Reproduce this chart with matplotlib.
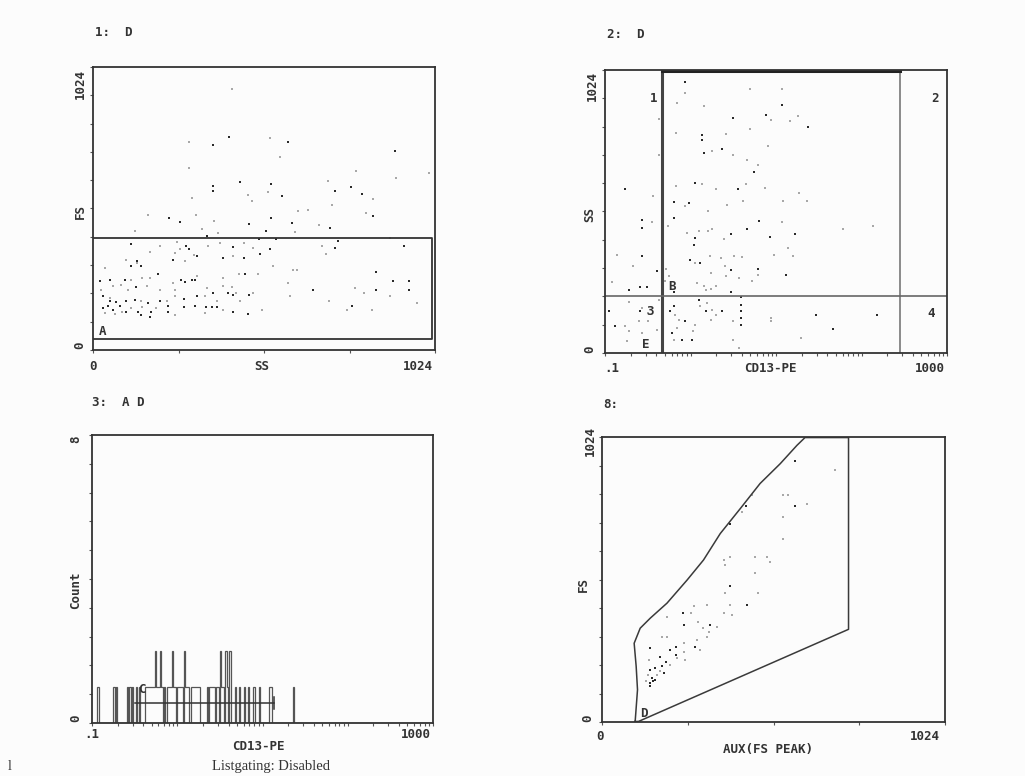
import numpy as np
import matplotlib
matplotlib.use("Agg")
from matplotlib import pyplot as plt

# panel 1: SS vs FS (dark and faint dots)
ss1_dark = [408, 358, 585, 903, 440, 358, 358, 533, 567, 725, 772, 805, 837, 228, 260, 533, 597, 468, 518, 710, 340,
            115, 278, 288, 420, 498, 530, 548, 500, 388, 453, 310, 240, 132, 145, 115, 455, 262, 275, 295, 305, 195,
            95, 50, 20, 128, 358, 468, 660, 848, 848, 897, 945, 945, 930, 735, 725, 775, 30, 50, 70, 100, 125, 165,
            200, 272, 312, 405, 420, 30, 45, 60, 80, 100, 135, 175, 225, 225, 272, 305, 338, 355, 370, 418, 465, 170, 145]
fs1_dark = [772, 742, 754, 719, 608, 594, 576, 600, 557, 576, 590, 564, 485, 479, 463, 478, 461, 455, 430, 442, 412,
            384, 378, 366, 373, 400, 364, 400, 349, 333, 333, 339, 327, 321, 303, 303, 276, 255, 245, 255, 255, 276,
            255, 255, 248, 227, 208, 200, 218, 282, 216, 248, 248, 216, 376, 394, 370, 158, 196, 176, 172, 176, 182, 170,
            176, 184, 194, 206, 200, 152, 158, 145, 158, 139, 139, 136, 139, 158, 155, 158, 155, 155, 155, 137, 130, 121, 127]
ss1_light = [417, 288, 530, 560, 788, 908, 1005, 288, 525, 463, 475, 295, 705, 837, 717, 613, 645, 817, 165, 308, 363,
             325, 373, 678, 125, 605, 890, 252, 260, 245, 172, 200, 345, 380, 452, 478, 418, 302, 275, 98, 132, 35,
             540, 600, 610, 495, 438, 388, 310, 170, 148, 115, 85, 60, 162, 240, 105, 200, 245, 340, 388, 415, 428,
             478, 585, 590, 785, 810, 888, 685, 698, 970, 762, 835, 708, 25, 50, 145, 223, 245, 335, 370, 440, 115,
             148, 190, 390, 505, 35, 65, 88, 245, 335]
fs1_light = [945, 751, 766, 700, 646, 624, 642, 660, 572, 561, 539, 551, 612, 548, 524, 504, 508, 497, 487, 487, 467,
             439, 424, 452, 430, 427, 406, 390, 366, 351, 355, 376, 378, 388, 388, 370, 339, 345, 321, 327, 315, 297,
             303, 288, 291, 276, 276, 261, 269, 261, 261, 255, 236, 230, 230, 242, 218, 216, 218, 224, 230, 228, 208,
             206, 242, 196, 224, 206, 194, 376, 349, 170, 145, 143, 176, 218, 188, 176, 176, 194, 194, 176, 176, 152,
             155, 152, 145, 145, 133, 130, 136, 127, 133]
gate_a = (0, 40, 1015, 406)  # x0, y0, x1, y1

# panel 2: CD13-PE (log) vs SS
cd13_dark = [0.87, 11.8, 3.1, 7.6, 23.5, 1.35, 1.35, 2.35, 1.43, 5.6, 1.12, 3.6, 0.17, 0.64, 0.95, 0.27, 0.27, 0.64,
             6.3, 1.12, 3.0, 4.6, 8.5, 16.7, 0.27, 1.09, 0.99, 1.30, 3.0, 6.2, 13.1, 3.0, 0.19, 0.26, 0.31, 0.41, 0.64,
             0.11, 0.26, 0.58, 0.64, 0.86, 1.25, 1.5, 2.35, 3.9, 3.9, 3.9, 3.9, 3.9, 0.61, 0.80, 1.05, 0.13, 29.5, 46, 150]
ss2_dark = [980, 896, 851, 860, 818, 787, 770, 737, 725, 654, 616, 592, 595, 546, 543, 483, 453, 489,
            477, 417, 429, 447, 420, 429, 350, 390, 338, 326, 299, 304, 284, 220, 229, 239, 239, 296, 220,
            151, 151, 151, 169, 115, 193, 151, 151, 202, 175, 151, 127, 103, 72, 46, 46, 97, 139, 88, 139]
cd13_light = [0.87, 5.0, 11.8, 0.70, 1.43, 0.43, 8.7, 14.4, 17.9, 5.0, 2.6, 0.67, 8.0, 1.8, 3.1, 4.6, 6.1, 0.43,
              1.35, 1.97, 4.4, 7.4, 18.5, 23, 0.68, 0.36, 0.86, 4.1, 2.7, 12, 1.6, 0.35, 0.55, 11.8, 60, 137, 0.91,
              1.25, 1.6, 1.8, 2.45, 14.0, 0.14, 0.21, 1.12, 1.67, 2.3, 3.2, 4.0, 9.5, 15.6, 2.5, 6.2, 1.72, 2.6, 3.7,
              5.3, 1.2, 1.43, 1.97, 1.5, 1.72, 0.52, 0.56, 0.50, 0.12, 0.19, 0.32, 0.43, 0.66, 0.73, 1.14, 1.30, 1.8,
              1.97, 1.57, 3.1, 1.72, 1.07, 0.70, 0.64, 3.1, 3.7, 0.19, 0.17, 0.25, 0.32, 0.41, 8.7, 8.7, 19.5, 0.27,
              0.18, 0.27]
ss2_light = [940, 957, 957, 906, 894, 848, 843, 839, 857, 811, 791, 797, 749, 731, 718, 700, 682, 715,
             610, 592, 610, 598, 580, 549, 604, 568, 531, 549, 537, 549, 513, 473, 461, 473, 447, 461, 435,
             441, 441, 447, 413, 380, 356, 314, 326, 350, 344, 350, 348, 356, 350, 314, 284, 290, 278, 272,
             260, 254, 241, 241, 229, 232, 304, 278, 260, 256, 184, 145, 193, 139, 118, 103, 169, 157,
             139, 181, 115, 121, 78, 91, 48, 48, 18, 78, 97, 115, 115, 85, 127, 115, 54, 163,
             42, 72]
quad_x1, quad_x2, quad_y = 0.47, 282, 205

# panel 3: CD13-PE histogram, 256 log channels over .1 - 1000
hist_ch = [4, 16, 18, 26, 28, 30, 33, 35, 40, 41, 42, 43, 44, 45, 46, 47, 48, 49, 50, 51, 52, 54, 56, 57, 58, 59,
           60, 61, 62, 64, 65, 66, 67, 69, 70, 71, 72, 74, 75, 76, 77, 78, 79, 80, 86, 88, 89, 90, 91, 93, 94, 96,
           97, 98, 100, 101, 103, 107, 110, 114, 117, 121, 125, 133, 134, 151]
hist_n = [1, 1, 1, 1, 1, 1, 1, 1, 1, 1, 1, 1, 1, 1, 1, 2, 1, 1, 1, 2, 1, 1, 1, 1, 1, 1,
          2, 1, 1, 1, 1, 1, 1, 2, 1, 1, 1, 1, 1, 1, 1, 1, 1, 1, 1, 1, 1, 1, 1, 1, 1, 2,
          1, 1, 2, 1, 2, 1, 1, 1, 1, 1, 1, 1, 1, 1]
marker_c = (0.32, 13.8, 0.56)

# panel 4: AUX(FS PEAK) vs FS
aux_dark = [577, 577, 430, 383, 383, 433, 241, 244, 321, 278, 222, 202, 222, 144, 174, 192, 179, 159, 144, 149,
            142, 152, 184, 144, 159]
fs4_dark = [937, 776, 776, 711, 489, 421, 391, 347, 347, 271, 271, 257, 241, 265, 235, 217, 202, 194, 188, 158,
            140, 146, 176, 130, 152]
aux_light = [696, 540, 555, 611, 447, 417, 540, 540, 363, 383, 368, 457, 502, 492, 457, 368, 467, 383, 363, 387,
             313, 275, 194, 266, 288, 343, 303, 318, 283, 244, 179, 244, 293, 164, 137, 174, 204, 224, 132, 139,
             249, 313, 194]
fs4_light = [905, 815, 815, 783, 815, 755, 737, 656, 582, 594, 564, 594, 576, 594, 534, 462, 462, 421, 391, 385,
             421, 415, 376, 391, 361, 343, 337, 325, 295, 283, 307, 253, 259, 170, 170, 185, 206, 229, 146, 223,
             221, 307, 307]
gate_d_x = [99, 106, 102, 96, 114, 144, 194, 254, 303, 353, 413, 472, 532, 582, 606, 736, 736, 109, 99]
gate_d_y = [2, 116, 200, 283, 337, 373, 427, 510, 582, 677, 767, 857, 928, 994, 1022, 1022, 333, 2, 2]

W, H = 1025, 776
INK = '#2a2a2a'
FAINT = '#a8a8a8'
mono = dict(family='DejaVu Sans Mono', fontweight='bold', color='#333333', fontsize=9)

fig = plt.figure(figsize=(W / 100, H / 100), dpi=100, facecolor='#fcfcfc')


def px(x, y):
    return x / W, 1 - y / H


def make_ax(l, t, r, b):
    ax = fig.add_axes([l / W, 1 - b / H, (r - l) / W, (b - t) / H])
    ax.set_facecolor('#fcfcfc')
    for s in ax.spines.values():
        s.set_color('#333333')
        s.set_linewidth(1.3)
    ax.tick_params(which='both', direction='out', length=2.5, width=0.8, color='#555555',
                   labelbottom=False, labelleft=False)
    ax.tick_params(which='minor', length=2)
    return ax


def put(x, y, s, **kw):
    d = dict(mono)
    d.update(kw)
    fig.text(*px(x, y), s, **d)


# ---- panel 1
ax1 = make_ax(93, 67, 435, 350)
ax1.set_xlim(0, 1024)
ax1.set_ylim(0, 1024)
ax1.set_xticks(np.arange(0, 1025, 256))
ax1.set_yticks(np.linspace(0, 1024, 11))
ax1.scatter(ss1_light, fs1_light, s=3.5, marker='s', c=FAINT, linewidths=0)
ax1.scatter(ss1_dark, fs1_dark, s=4, marker='s', c=INK, linewidths=0)
x0, y0, x1, y1 = gate_a
ax1.plot([x0, x1, x1, x0], [y1, y1, y0, y0], color='#333333', lw=1.3)
ax1.text(30, 67, 'A', ha='center', va='center', **mono)

put(95, 33, '1:  D', va='center')
put(262, 367, 'SS', ha='center', va='center')
put(80, 212, 'FS', ha='center', va='center', rotation=90)
put(93, 366, '0', ha='center', va='center')
put(433, 366, '1024', ha='right', va='center')
put(80, 345, '0', ha='center', va='center', rotation=90)
put(80, 84, '1024', ha='center', va='center', rotation=90)

# ---- panel 2
ax2 = make_ax(605, 70, 947, 353)
ax2.set_xscale('log')
ax2.set_xlim(0.1, 1000)
ax2.set_ylim(0, 1024)
ax2.set_yticks(np.linspace(0, 1024, 11))
ax2.scatter(cd13_light, ss2_light, s=3.5, marker='s', c=FAINT, linewidths=0)
ax2.scatter(cd13_dark, ss2_dark, s=4, marker='s', c=INK, linewidths=0)
ax2.axvline(quad_x1, color='#444444', lw=2.2)
ax2.axvline(quad_x2, color='#777777', lw=1.2)
ax2.axhline(quad_y, color='#666666', lw=1.2)
ax2.plot([quad_x1, quad_x2], [1022, 1022], color='#222222', lw=2.2)
for xs, ys, s in [(0.141, 0.90, '1'), (0.965, 0.90, '2'), (0.132, 0.145, '3'), (0.955, 0.14, '4'),
                  (0.195, 0.235, 'B'), (0.12, 0.03, 'E')]:
    ax2.text(xs, ys, s, transform=ax2.transAxes, ha='center', va='center', **mono)

put(607, 35, '2:  D', va='center')
put(770, 369, 'CD13-PE', ha='center', va='center')
put(590, 215, 'SS', ha='center', va='center', rotation=90)
put(612, 368, '.1', ha='center', va='center')
put(945, 368, '1000', ha='right', va='center')
put(590, 349, '0', ha='center', va='center', rotation=90)
put(592, 86, '1024', ha='center', va='center', rotation=90)

# ---- panel 3
ax3 = make_ax(92, 435, 433, 723)
ax3.set_xscale('log')
ax3.set_xlim(0.1, 1000)
ax3.set_ylim(0, 8)
ax3.set_yticks(np.linspace(0, 8, 11))
edges = 10 ** np.linspace(-1, 3, 257)
counts = np.zeros(256)
counts[hist_ch] = hist_n
ax3.stairs(counts, edges, color='#555555', lw=0.9)
cx0, cx1, cy = marker_c
ax3.plot([cx0, cx1], [cy, cy], color='#333333', lw=1.1)
ax3.plot([cx1, cx1], [cy - 0.17, cy + 0.17], color='#333333', lw=1.1)
ax3.text(0.38, 0.93, 'C', ha='center', va='center', **mono)

put(92, 402, '3:  A D', va='center')
put(258, 746, 'CD13-PE', ha='center', va='center')
put(76, 590, 'Count', ha='center', va='center', rotation=90)
put(92, 734, '.1', ha='center', va='center')
put(431, 734, '1000', ha='right', va='center')
put(76, 718, '0', ha='center', va='center', rotation=90)
put(76, 439, '8', ha='center', va='center', rotation=90)

# ---- panel 4
ax4 = make_ax(602, 437, 945, 722)
ax4.set_xlim(0, 1024)
ax4.set_ylim(0, 1024)
ax4.set_xticks(np.arange(0, 1025, 256))
ax4.set_yticks(np.linspace(0, 1024, 11))
ax4.scatter(aux_light, fs4_light, s=3.5, marker='s', c=FAINT, linewidths=0)
ax4.scatter(aux_dark, fs4_dark, s=4, marker='s', c=INK, linewidths=0)
ax4.plot(gate_d_x, gate_d_y, color='#3a3a3a', lw=1.1)
ax4.text(125, 32, 'D', ha='center', va='center', **mono)

put(603, 405, '8:', va='center')
put(768, 749, 'AUX(FS PEAK)', ha='center', va='center')
put(583, 585, 'FS', ha='center', va='center', rotation=90)
put(600, 737, '0', ha='center', va='center')
put(940, 737, '1024', ha='right', va='center')
put(588, 718, '0', ha='center', va='center', rotation=90)
put(590, 441, '1024', ha='center', va='center', rotation=90)

# footer line of the printout
fig.text(*px(212, 760), 'Listgating: Disabled', family='Liberation Serif', fontsize=10.5,
         color='#333333', va='top')
fig.text(*px(8, 760), 'l', family='Liberation Serif', fontsize=10.5, color='#333333', va='top')

fig.savefig('out.png', dpi=100, facecolor=fig.get_facecolor())
